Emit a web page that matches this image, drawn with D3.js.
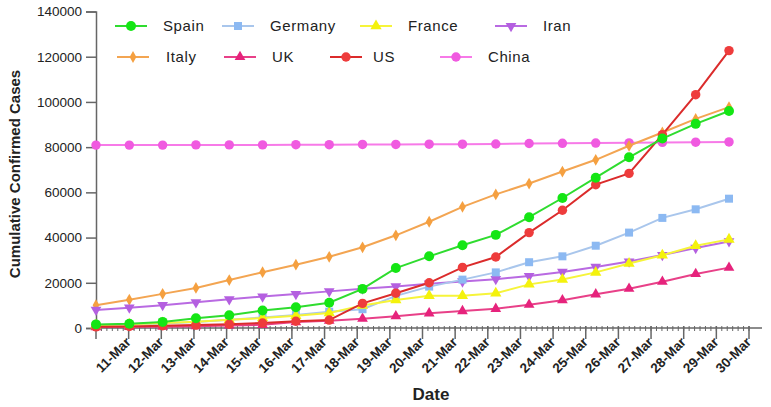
<!DOCTYPE html>
<html>
<head>
<meta charset="utf-8">
<script src="https://cdn.jsdelivr.net/npm/d3@7/dist/d3.min.js"></script>
<style>
  body { margin: 0; background: #fff; }
  svg { display: block; font-family: Arial, "Liberation Sans", sans-serif; }
</style>
</head>
<body>
<svg width="771" height="407"></svg>
<script>
// tick labels on the date axis (first tick is unlabelled)
var tickLabels = ["11-Mar","12-Mar","13-Mar","14-Mar","15-Mar","16-Mar","17-Mar","18-Mar","19-Mar","20-Mar",
                  "21-Mar","22-Mar","23-Mar","24-Mar","25-Mar","26-Mar","27-Mar","28-Mar","29-Mar","30-Mar"];
var yTicks = [0, 20000, 40000, 60000, 80000, 100000, 120000, 140000];

// cumulative confirmed cases (thousands)
var spain   = [1.6,1.9,2.7,4.3,5.6,7.7,9.2,11.2,17.3,26.5,31.7,36.6,41.2,49.0,57.5,66.5,75.5,83.8,90.3,96.0];
var germany = [1.1,1.6,2.0,2.7,3.7,4.6,5.8,7.2,8.3,14.2,18.3,21.4,24.6,29.1,31.7,36.4,42.2,48.7,52.5,57.2];
var france  = [1.2,1.7,2.2,2.8,3.6,4.4,5.4,6.6,10.0,12.4,14.3,14.3,15.4,19.3,21.5,24.6,28.5,32.2,36.4,39.2];
var iran    = [8.0,9.0,10.1,11.4,12.7,13.9,15.0,16.2,17.4,18.4,19.6,20.6,21.6,23.0,24.8,27.0,29.4,32.3,35.4,38.3];
var italy   = [10.1,12.5,15.1,17.7,21.2,24.7,28.0,31.5,35.7,41.0,47.0,53.6,59.1,63.9,69.2,74.4,80.6,86.5,92.5,97.7];
var uk      = [0.4,0.5,0.6,0.8,1.1,1.4,2.6,3.2,4.1,5.2,6.5,7.5,8.5,10.3,12.3,14.9,17.4,20.5,23.9,26.7];
var us      = [0.5,0.7,1.0,1.3,1.7,2.2,3.0,3.5,10.9,15.4,20.0,26.8,31.4,42.2,52.1,63.4,68.4,85.5,103.2,122.7];
var china   = [80.9,80.9,80.9,81.0,81.0,81.0,81.1,81.1,81.2,81.2,81.3,81.3,81.4,81.6,81.7,81.8,81.9,82.1,82.2,82.3];

var svg = d3.select("svg");

var series = [
  {name: "China",   values: china,   color: "#f05ae0", line: "#f77ae8", sym: d3.symbolCircle,   size: 70, rot: 0},
  {name: "Italy",   values: italy,   color: "#f5a040", line: "#f3a552", sym: d3.symbolDiamond,  size: 40, rot: 0},
  {name: "Iran",    values: iran,    color: "#b45fe0", line: "#b96ae2", sym: d3.symbolTriangle, size: 50, rot: 180},
  {name: "UK",      values: uk,      color: "#e6237c", line: "#e84088", sym: d3.symbolTriangle, size: 50, rot: 0},
  {name: "Germany", values: germany, color: "#8cb9f2", line: "#a9c6ec", sym: d3.symbolSquare,   size: 64, rot: 0},
  {name: "France",  values: france,  color: "#f4f20c", line: "#f6f43a", sym: d3.symbolTriangle, size: 55, rot: 0},
  {name: "US",      values: us,      color: "#ee3c3c", line: "#db2b2b", sym: d3.symbolCircle,   size: 70, rot: 0},
  {name: "Spain",   values: spain,   color: "#14e614", line: "#2fdc2f", sym: d3.symbolCircle,   size: 78, rot: 0}
];

// scales
var x = d3.scaleLinear().domain([0, 19]).range([96, 729]);
var xTick = d3.scaleLinear().domain([0, 20]).range([96, 749]);
var y = d3.scaleLinear().domain([0, 140000]).range([328, 11.5]);

var axisColor = "#666";

// y axis
var yAxis = svg.append("g").attr("transform", "translate(96,0)")
  .call(d3.axisLeft(y).tickValues(yTicks).tickSize(10).tickPadding(4).tickFormat(d3.format("d")));
yAxis.select(".domain").attr("stroke", axisColor).attr("stroke-width", 1.5);
yAxis.selectAll(".tick line").attr("stroke", axisColor).attr("stroke-width", 1.5);
yAxis.selectAll(".tick text").attr("font-size", "13.5px").attr("fill", "#222");

// x axis: minor ticks, major ticks, labels
var xg = svg.append("g");
xg.selectAll(".minor").data(d3.range(0, 20 * 6 + 1)).enter().append("line")
  .attr("x1", function(d) { return xTick(d / 6); }).attr("x2", function(d) { return xTick(d / 6); })
  .attr("y1", 326).attr("y2", 331)
  .attr("stroke", axisColor).attr("stroke-width", 1);
xg.append("line").attr("x1", 96).attr("x2", 762).attr("y1", 328).attr("y2", 328)
  .attr("stroke", axisColor).attr("stroke-width", 1.5);
xg.selectAll(".major").data(d3.range(0, 21)).enter().append("line")
  .attr("x1", function(d) { return xTick(d); }).attr("x2", function(d) { return xTick(d); })
  .attr("y1", 326).attr("y2", 339)
  .attr("stroke", axisColor).attr("stroke-width", 1.5);
xg.selectAll(".xl").data(tickLabels).enter().append("text")
  .attr("transform", function(d, i) { return "translate(" + (xTick(i + 1) + 3) + ",343) rotate(-45)"; })
  .attr("text-anchor", "end")
  .attr("font-size", "13.5px").attr("font-weight", "bold").attr("fill", "#222")
  .text(function(d) { return d; });

// axis titles
svg.append("text").attr("x", 431).attr("y", 400).attr("text-anchor", "middle")
  .attr("font-size", "17px").attr("font-weight", "bold").attr("fill", "#222").text("Date");
svg.append("text").attr("transform", "translate(20,174) rotate(-90)").attr("text-anchor", "middle")
  .attr("font-size", "15px").attr("font-weight", "bold").attr("fill", "#222").text("Cumulative Confirmed Cases");

// lines and markers
var line = d3.line().x(function(d, i) { return x(i); }).y(function(d) { return y(d * 1000); });

var sg = svg.selectAll(".series").data(series).enter().append("g").attr("class", "series");
sg.append("path")
  .attr("d", function(s) { return line(s.values); })
  .attr("fill", "none").attr("stroke", function(s) { return s.line; }).attr("stroke-width", 2);
sg.each(function(s) {
  d3.select(this).selectAll("path.pt").data(s.values).enter().append("path").attr("class", "pt")
    .attr("d", d3.symbol().type(s.sym).size(s.size))
    .attr("transform", function(d, i) { return "translate(" + x(i) + "," + y(d * 1000) + ") rotate(" + s.rot + ")"; })
    .attr("fill", s.color);
});

// legend
var legendItems = [
  {name: "Spain", x: 115, y: 26}, {name: "Germany", x: 222, y: 26}, {name: "France", x: 360, y: 26}, {name: "Iran", x: 495, y: 26},
  {name: "Italy", x: 117, y: 57}, {name: "UK", x: 224, y: 57}, {name: "US", x: 330, y: 57}, {name: "China", x: 440, y: 57}
];
var byName = {};
series.forEach(function(s) { byName[s.name] = s; });
var lg = svg.selectAll(".legend").data(legendItems).enter().append("g")
  .attr("transform", function(d) { return "translate(" + d.x + "," + d.y + ")"; });
lg.append("line").attr("x1", 0).attr("x2", 32).attr("y1", 0).attr("y2", 0)
  .attr("stroke", function(d) { return byName[d.name].line; }).attr("stroke-width", 2);
lg.append("path")
  .attr("d", function(d) { return d3.symbol().type(byName[d.name].sym).size(byName[d.name].size)(); })
  .attr("transform", function(d) { return "translate(16,0) rotate(" + byName[d.name].rot + ")"; })
  .attr("fill", function(d) { return byName[d.name].color; });
lg.append("text").attr("x", function(d) { return d.name === "Italy" ? 49 : (d.name === "US" ? 43 : 48); }).attr("y", 5)
  .attr("font-size", "15px").attr("letter-spacing", "0.6px").attr("fill", "#222")
  .text(function(d) { return d.name; });
</script>
</body>
</html>
